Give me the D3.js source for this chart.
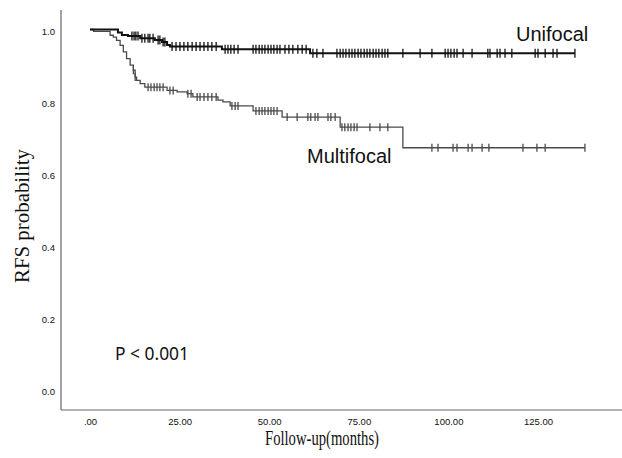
<!DOCTYPE html>
<html lang="en">
<head>
    <meta charset="UTF-8">
    <title>RFS Kaplan-Meier: Unifocal vs Multifocal</title>
    <script src="https://d3js.org/d3.v7.min.js"></script>
    <style>
        body { margin: 0; background: #fff; }
        svg { display: block; }
    </style>
</head>
<body>
    <div id="chart"></div>

    <script>
        // x-axis tick labels (months) and y-axis tick labels
        const xTicks = [0, 25, 50, 75, 100, 125];
        const yTicks = [0, 0.2, 0.4, 0.6, 0.8, 1.0];

        // Unifocal: [month, survival] at each drop, then end of follow-up
        const unifocalSteps = [[0, 1.0], [7.8, 0.992], [8.9, 0.985], [10.6, 0.982], [14.0, 0.976],
            [18.1, 0.971], [20.1, 0.965], [21.5, 0.957], [22.3, 0.953], [36.8, 0.945], [61.4, 0.934]];
        const unifocalEnd = 135.3;
        const unifocalCensored = [11.7, 12.3, 12.8, 13.4, 14.5, 15.3, 16.2, 16.7, 17.6, 19.0, 19.5, 20.4, 20.9,
            22.9, 24.0, 25.1, 26.2, 27.3, 28.5, 29.6, 30.7, 31.8, 32.9, 34.0, 35.2, 37.7, 38.5, 39.3, 40.2, 41.3,
            45.5, 46.3, 47.2, 48.0, 48.8, 49.7, 50.5, 51.3, 52.2, 53.0, 54.4, 55.5, 56.6, 58.0, 59.2, 60.3,
            62.2, 63.3, 65.0, 68.9, 69.8, 70.6, 71.4, 72.3, 73.1, 73.9, 74.8, 75.6, 76.5, 77.3, 78.1, 79.0,
            79.8, 80.6, 81.5, 82.3, 83.1, 87.3, 92.1, 95.4, 99.1, 99.9, 100.7, 101.6, 102.4, 104.1, 106.6,
            111.0, 111.6, 113.6, 114.4, 115.8, 117.7, 124.2, 125.0, 127.0, 129.2, 130.3, 135.3];

        // Multifocal
        const multifocalSteps = [[0, 1.0], [1.0, 0.995], [5.6, 0.984], [6.5, 0.979], [7.4, 0.970], [8.4, 0.956],
            [9.3, 0.938], [10.2, 0.919], [11.2, 0.901], [12.1, 0.887], [12.6, 0.868], [13.0, 0.859], [14.0, 0.850],
            [15.3, 0.840], [21.5, 0.831], [24.3, 0.827], [27.1, 0.822], [28.7, 0.813], [35.7, 0.804], [37.1, 0.799],
            [39.1, 0.788], [45.5, 0.774], [53.6, 0.757], [69.8, 0.729], [87.3, 0.672]];
        const multifocalEnd = 138.1;
        const multifocalCensored = [12.1, 12.6, 16.2, 17.0, 17.9, 18.7, 19.5, 20.4, 22.3, 23.2, 27.3, 28.2,
            29.9, 30.7, 31.8, 32.9, 34.0, 35.2, 39.6, 40.5, 41.3, 46.3, 47.2, 48.0, 48.8, 49.7, 50.5, 51.3, 52.2,
            55.0, 57.8, 60.8, 61.6, 62.8, 63.6, 66.4, 67.2, 68.4, 70.3, 71.1, 72.0, 72.8, 73.7, 74.5, 78.1, 80.9,
            83.1, 95.4, 97.1, 101.3, 102.4, 105.5, 106.6, 109.4, 111.3, 120.8, 124.7, 127.0, 138.1];

        const width = 622, height = 458;

        const svg = d3.select("#chart").append("svg")
            .attr("width", width)
            .attr("height", height);

        const x = d3.scaleLinear().domain([0, 125]).range([90, 538]);
        const y = d3.scaleLinear().domain([0, 1]).range([390, 29.5]);

        // axes lines (no tick marks in the original)
        svg.append("line")
            .attr("x1", 61).attr("x2", 61).attr("y1", 10).attr("y2", 410)
            .attr("stroke", "#666").attr("stroke-width", 1.2);
        svg.append("line")
            .attr("x1", 61).attr("x2", width).attr("y1", 410).attr("y2", 410)
            .attr("stroke", "#666").attr("stroke-width", 1.2);

        const xAxis = d3.axisBottom(x)
            .tickValues(xTicks)
            .tickSize(0)
            .tickFormat(d => d === 0 ? ".00" : d.toFixed(2));
        const gx = svg.append("g")
            .attr("transform", "translate(0,415)")
            .call(xAxis);
        gx.select(".domain").remove();
        gx.selectAll("text")
            .attr("font-family", "Liberation Sans, Arial, sans-serif")
            .attr("font-size", 9.5)
            .attr("fill", "#111");

        const yAxis = d3.axisLeft(y)
            .tickValues(yTicks)
            .tickSize(0)
            .tickFormat(d3.format(".1f"));
        const gy = svg.append("g")
            .attr("transform", "translate(55,1.5)")
            .call(yAxis);
        gy.select(".domain").remove();
        gy.selectAll("text")
            .attr("x", 0)
            .attr("font-family", "Liberation Sans, Arial, sans-serif")
            .attr("font-size", 9.5)
            .attr("fill", "#111");

        // survival value at time t from a step table
        function survAt(steps, t) {
            let s = steps[0][1];
            steps.forEach(d => { if (d[0] <= t) s = d[1]; });
            return s;
        }

        const line = d3.line()
            .x(d => x(d[0]))
            .y(d => y(d[1]))
            .curve(d3.curveStepAfter);

        function drawCurve(steps, end, censored, color, lw, tickH) {
            const pts = steps.concat([[end, steps[steps.length - 1][1]]]);
            svg.append("path")
                .datum(pts)
                .attr("d", line)
                .attr("fill", "none")
                .attr("stroke", color)
                .attr("stroke-width", lw);

            svg.append("g").selectAll("line")
                .data(censored)
                .join("line")
                .attr("x1", d => x(d)).attr("x2", d => x(d))
                .attr("y1", d => y(survAt(steps, d)) - tickH / 2)
                .attr("y2", d => y(survAt(steps, d)) + tickH / 2)
                .attr("stroke", color)
                .attr("stroke-width", 1.3);
        }

        drawCurve(multifocalSteps, multifocalEnd, multifocalCensored, "#4a4a4a", 1.3, 8);
        drawCurve(unifocalSteps, unifocalEnd, unifocalCensored, "#111", 2, 9);

        // labels
        svg.append("text")
            .attr("x", 516).attr("y", 41)
            .attr("font-family", "Liberation Sans, Arial, sans-serif")
            .attr("font-size", 20)
            .attr("fill", "#111")
            .text("Unifocal");

        svg.append("text")
            .attr("x", 307).attr("y", 163)
            .attr("font-family", "Liberation Sans, Arial, sans-serif")
            .attr("font-size", 20)
            .attr("fill", "#111")
            .text("Multifocal");

        svg.append("text")
            .attr("x", 115).attr("y", 360)
            .attr("font-family", "Noto Sans, sans-serif")
            .attr("font-size", 18)
            .attr("textLength", 74)
            .attr("lengthAdjust", "spacingAndGlyphs")
            .attr("fill", "#111")
            .text("P < 0.001");

        svg.append("text")
            .attr("x", 322).attr("y", 445)
            .attr("text-anchor", "middle")
            .attr("font-family", "Liberation Serif, Times New Roman, serif")
            .attr("font-size", 20)
            .attr("textLength", 114)
            .attr("lengthAdjust", "spacingAndGlyphs")
            .attr("fill", "#111")
            .text("Follow-up(months)");

        svg.append("text")
            .attr("transform", "translate(29,216) rotate(-90)")
            .attr("text-anchor", "middle")
            .attr("font-family", "Liberation Serif, Times New Roman, serif")
            .attr("font-size", 20)
            .attr("textLength", 134)
            .attr("lengthAdjust", "spacingAndGlyphs")
            .attr("fill", "#111")
            .text("RFS probability");
    </script>
</body>
</html>
